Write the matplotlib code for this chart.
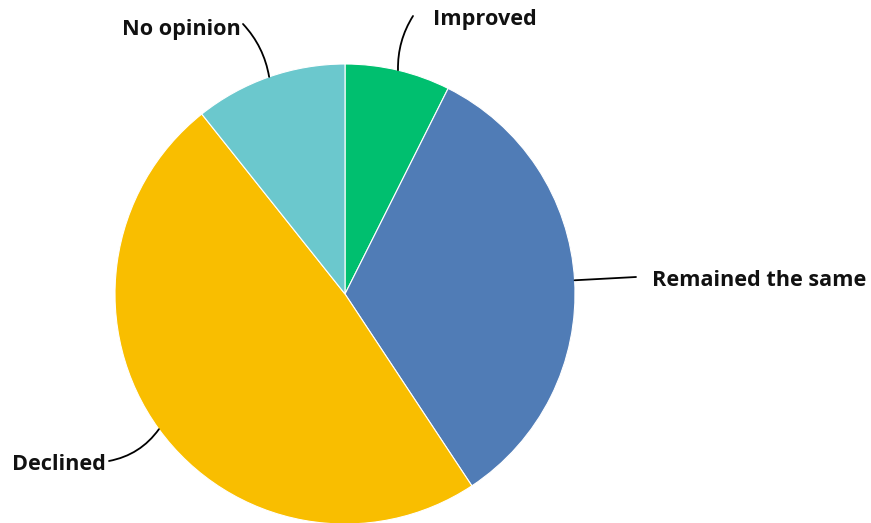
import numpy as np
import matplotlib.pyplot as plt

labels = ["Improved", "Remained the same", "Declined", "No opinion"]
shares = [7.4, 33.3, 48.6, 10.7]
colors = ["#00BF6F", "#507CB6", "#F9BE00", "#6BC8CD"]

# label anchor (x, y in pixels from top-left) and end of the leader line
label_pos = [(433, 19, "left"), (652, 280, "left"), (106, 465, "right"), (241, 29, "right")]
line_end = [(413, 16), (636, 277), (109, 461), (243, 24)]
line_rad = [-0.15, 0.0, -0.2, 0.15]

W, H = 871, 523
fig = plt.figure(figsize=(W / 100, H / 100), dpi=100)
ax = fig.add_axes([0, 0, 1, 1])

cx, cy, r = 345, H - 294, 230
wedges, _ = ax.pie(shares, colors=colors, startangle=90, counterclock=False,
                   center=(cx, cy), radius=r, frame=True,
                   wedgeprops=dict(edgecolor="white", linewidth=0.8))
ax.set_xlim(0, W)
ax.set_ylim(0, H)
ax.set_aspect("equal")
ax.axis("off")

for w, lab, (tx, ty, ha), (ex, ey), rad in zip(wedges, labels, label_pos, line_end, line_rad):
    mid = np.deg2rad((w.theta1 + w.theta2) / 2)
    sx, sy = cx + r * np.cos(mid), cy + r * np.sin(mid)
    ax.annotate("", xy=(ex, H - ey), xytext=(sx, sy),
                arrowprops=dict(arrowstyle="-", color="black", lw=1.3,
                                shrinkA=0, shrinkB=0,
                                connectionstyle=f"arc3,rad={rad}"))
    ax.text(tx, H - ty, lab, ha=ha, va="center", fontsize=15.6, fontweight="bold",
            family="Open Sans", color="#111111")

fig.savefig("out.png", dpi=100)
